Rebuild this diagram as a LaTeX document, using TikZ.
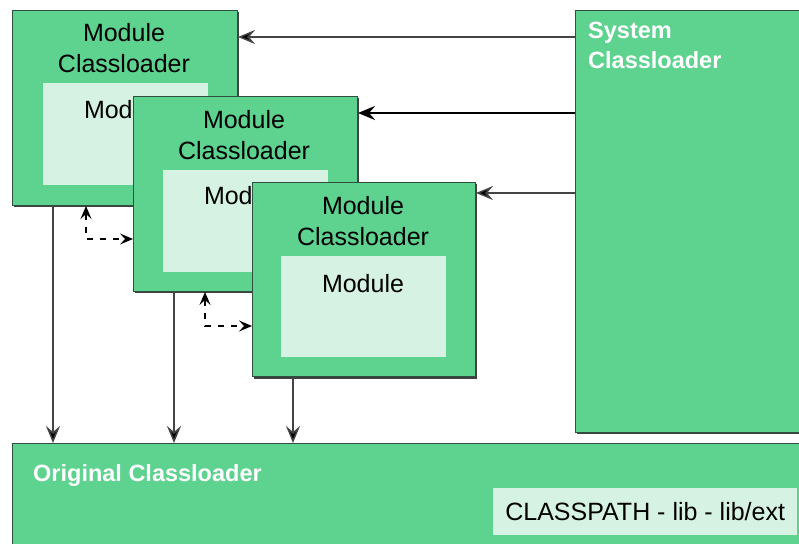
\documentclass[tikz,border=0pt]{standalone}
\usepackage{fontspec}
\setmainfont{Liberation Sans}
\usetikzlibrary{arrows.meta,calc}
\definecolor{loadergreen}{HTML}{5ED28F}
\definecolor{modulefill}{HTML}{D6F2E2}
\definecolor{edgegray}{HTML}{2F4F3F}
\definecolor{linkgray}{HTML}{444444}
\tikzset{
  loaderbox/.style={fill=loadergreen, draw=edgegray, line width=1pt, anchor=north west, inner sep=0pt},
  moduleinner/.style={fill=modulefill, draw=none, anchor=north west, inner sep=0pt},
  boxshadow/.style={fill=black!75, draw=none},
  labeltext/.style={font=\fontsize{25}{31.5}\selectfont, text=black, align=center, inner sep=0pt},
  whitetext/.style={font=\bfseries\fontsize{23.5}{30}\selectfont, text=white, align=left, inner sep=0pt, anchor=north west},
  headtip/.style={Stealth[length=17pt,width=14pt,inset=6pt,fill=black]},
  smalltip/.style={Stealth[length=13pt,width=11pt,inset=5pt,fill=black]},
  link/.style={draw=linkgray, line width=1.5pt, -{Stealth[length=17pt,width=14pt,inset=6pt,fill=black]}},
  strong/.style={draw=black, line width=2.8pt, -{Stealth[length=17pt,width=14pt,inset=6pt,fill=black]}},
  dashlink/.style={draw=black, line width=1.1pt, dash pattern=on 6pt off 7pt,
    {Stealth[length=13pt,width=11pt,inset=5pt]}-{Stealth[length=13pt,width=11pt,inset=5pt]}}
}
\begin{document}
\begin{tikzpicture}[x=1pt,y=-1pt]
\useasboundingbox (0,0) rectangle (799,543);

% system classloader
\fill[boxshadow] (577,12) rectangle (801,434);
\node[loaderbox, minimum width=226pt, minimum height=422pt] (sys) at (575,10) {};
\node[whitetext] (systext) at (588,22) {System\\Classloader};

% original classloader with classpath
\node[loaderbox, minimum width=792pt, minimum height=102pt] (orig) at (12,443) {};
\node[whitetext] (origtext) at (33,464) {Original Classloader};
\node[moduleinner, minimum width=304pt, minimum height=47pt] (cp) at (493,488) {};
\node[labeltext] (cptext) at (cp.center) {CLASSPATH - lib - lib/ext};

% first module classloader
\fill[boxshadow] (14,12) rectangle (239,207);
\node[loaderbox, minimum width=225pt, minimum height=195pt] (mcA) at (12,10) {};
\node[labeltext] (mcAtext) at (124,48) {Module\\Classloader};
\node[moduleinner, minimum width=165pt, minimum height=102pt] (modA) at (43,83) {};
\node[labeltext] (modAtext) at (125,110) {Module};

% second module classloader
\fill[boxshadow] (135,98) rectangle (359,293);
\node[loaderbox, minimum width=224pt, minimum height=195pt] (mcB) at (133,96) {};
\node[labeltext] (mcBtext) at (244,135) {Module\\Classloader};
\node[moduleinner, minimum width=165pt, minimum height=102pt] (modB) at (163,170) {};
\node[labeltext] (modBtext) at (245,196) {Module};

% third module classloader
\fill[boxshadow] (254,184) rectangle (477,379);
\node[loaderbox, minimum width=223pt, minimum height=194pt] (mcC) at (252,182) {};
\node[labeltext] (mcCtext) at (363,221) {Module\\Classloader};
\node[moduleinner, minimum width=165pt, minimum height=101pt] (modC) at (281,256) {};
\node[labeltext] (modCtext) at (363,284) {Module};

% system classloader delegates to the module classloaders
\draw[link] (sys.west |- 0,37) -- (mcA.east |- 0,37);
\draw[strong] (sys.west |- 0,113) -- (mcB.east |- 0,113);
\draw[link] (sys.west |- 0,193) -- (mcC.east |- 0,193);

% module classloaders delegate to the original classloader
\draw[link] (mcA.south -| 53,0) -- (orig.north -| 53,0);
\draw[link] (mcB.south -| 174,0) -- (orig.north -| 174,0);
\draw[link] (mcC.south -| 293,0) -- (orig.north -| 293,0);

% module to module dependencies
\draw[dashlink] (mcA.south -| 86,0) |- (mcB.west |- 0,239);
\draw[dashlink] (mcB.south -| 205,0) |- (mcC.west |- 0,326);
\end{tikzpicture}
\end{document}
